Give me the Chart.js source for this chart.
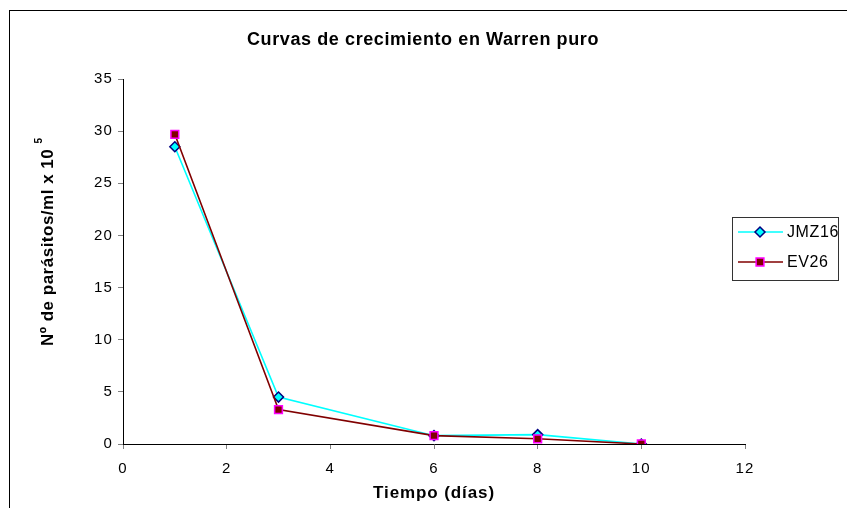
<!DOCTYPE html>
<html>
<head>
<meta charset="utf-8">
<script src="https://cdn.jsdelivr.net/npm/chart.js@4.4.1/dist/chart.umd.min.js"></script>
<style>
  html, body { margin: 0; padding: 0; background: #ffffff; }
  #wrap { width: 847px; height: 508px; position: relative; }
</style>
</head>
<body>
<div id="wrap"><canvas id="c" width="847" height="508"></canvas></div>
<script>
// Growth curves of two strains in pure Warren medium
const chartTitle = 'Curvas de crecimiento en Warren puro';
const xAxisTitle = 'Tiempo (días)';
const yAxisTitle = 'Nº de parásitos/ml x 10';
const yAxisExponent = '5';

const days = [1, 3, 6, 8, 10];
const seriesNames = ['JMZ16', 'EV26'];
const jmz16 = [28.5, 4.5, 0.8, 0.9, 0];
const ev26 = [29.7, 3.3, 0.8, 0.5, 0];

const xTickValues = [0, 2, 4, 6, 8, 10, 12];
const yTickValues = [0, 5, 10, 15, 20, 25, 30, 35];

const FONT = 'Arial, "Liberation Sans", sans-serif';

const toPoints = (vals) => days.map((d, i) => ({ x: d, y: vals[i] }));

const seriesStyles = [
  { line: '#00ffff', fill: '#00ffff', edge: '#000080', shape: 'rectRot', radius: 5 },
  { line: '#800000', fill: '#800000', edge: '#ff00ff', shape: 'rect', radius: 5.5 }
];

// the second series is painted over the first one
const drawOrder = [1, 0];

const datasets = [jmz16, ev26].map((vals, i) => ({
  label: seriesNames[i],
  data: toPoints(vals),
  order: drawOrder[i],
  borderColor: seriesStyles[i].line,
  borderWidth: 1.6,
  backgroundColor: seriesStyles[i].fill,
  pointBackgroundColor: seriesStyles[i].fill,
  pointBorderColor: seriesStyles[i].edge,
  pointBorderWidth: 1.5,
  pointStyle: seriesStyles[i].shape,
  pointRadius: seriesStyles[i].radius,
  tension: 0,
  fill: false
}));

// Slightly spaced lettering for the tick labels
const spacing = {
  id: 'spacing',
  beforeDraw(chart) { chart.ctx.letterSpacing = '1.2px'; }
};

// Outer frame, titles and the boxed legend
const decorations = {
  id: 'decorations',
  afterDraw(chart) {
    const ctx = chart.ctx;
    ctx.save();

    // frame around the whole chart
    ctx.strokeStyle = '#000000';
    ctx.lineWidth = 1;
    ctx.strokeRect(9.5, 10.5, 900, 600);

    // main title
    ctx.fillStyle = '#000000';
    ctx.letterSpacing = '0.6px';
    ctx.font = 'bold 18px ' + FONT;
    ctx.textAlign = 'center';
    ctx.textBaseline = 'middle';
    ctx.fillText(chartTitle, 423, 40);

    // x axis title
    ctx.letterSpacing = '0.9px';
    ctx.font = 'bold 17px ' + FONT;
    ctx.fillText(xAxisTitle, 434, 493);

    // y axis title with superscript exponent
    ctx.save();
    ctx.translate(48, 346);
    ctx.rotate(-Math.PI / 2);
    ctx.letterSpacing = '0.5px';
    ctx.textAlign = 'left';
    ctx.font = 'bold 17px ' + FONT;
    const mainW = ctx.measureText(yAxisTitle + ' ').width;
    ctx.fillText(yAxisTitle + ' ', 0, 0);
    ctx.font = 'bold 10px ' + FONT;
    ctx.fillText(yAxisExponent, mainW, -9);
    ctx.restore();

    // legend
    const lx = 732, ly = 217, lw = 106, lh = 63;
    ctx.fillStyle = '#ffffff';
    ctx.fillRect(lx, ly, lw, lh);
    ctx.strokeStyle = '#333333';
    ctx.lineWidth = 1;
    ctx.strokeRect(lx + 0.5, ly + 0.5, lw, lh);
    const rows = [232, 262];
    seriesNames.forEach((name, i) => {
      const st = seriesStyles[i];
      const y = rows[i];
      ctx.strokeStyle = st.line;
      ctx.lineWidth = 1.6;
      ctx.beginPath();
      ctx.moveTo(738, y);
      ctx.lineTo(783, y);
      ctx.stroke();
      ctx.fillStyle = st.fill;
      ctx.strokeStyle = st.edge;
      ctx.lineWidth = 1.5;
      ctx.beginPath();
      if (st.shape === 'rect') {
        const s = st.radius * Math.SQRT1_2;
        ctx.rect(760 - s, y - s, 2 * s, 2 * s);
      } else {
        const r = st.radius;
        ctx.moveTo(760, y - r);
        ctx.lineTo(760 + r, y);
        ctx.lineTo(760, y + r);
        ctx.lineTo(760 - r, y);
        ctx.closePath();
      }
      ctx.fill();
      ctx.stroke();
      ctx.fillStyle = '#000000';
      ctx.letterSpacing = '0.6px';
      ctx.font = '16px ' + FONT;
      ctx.textAlign = 'left';
      ctx.textBaseline = 'middle';
      ctx.fillText(name, 787, y + 1);
    });

    ctx.restore();
  }
};

const axisGrid = { display: true, drawOnChartArea: false, drawTicks: true, tickLength: 5, color: '#808080' };
const axisBorder = { display: true, color: '#000000', width: 1 };
const tickFont = { family: FONT, size: 15 };

new Chart(document.getElementById('c'), {
  type: 'line',
  data: { datasets },
  options: {
    responsive: false,
    animation: false,
    devicePixelRatio: 1,
    layout: { padding: { left: 0, top: 79, right: 102, bottom: 0 } },
    plugins: {
      legend: { display: false },
      title: { display: false },
      tooltip: { enabled: false }
    },
    scales: {
      x: {
        type: 'linear',
        min: 0,
        max: 12,
        grid: axisGrid,
        border: axisBorder,
        ticks: { color: '#000000', font: tickFont, stepSize: 2, padding: 11 },
        afterBuildTicks(scale) { scale.ticks = xTickValues.map(v => ({ value: v })); },
        afterFit(scale) { scale.height = 64; }
      },
      y: {
        type: 'linear',
        min: 0,
        max: 35,
        grid: axisGrid,
        border: axisBorder,
        ticks: { color: '#000000', font: tickFont, stepSize: 5, padding: 5 },
        afterBuildTicks(scale) { scale.ticks = yTickValues.map(v => ({ value: v })); },
        afterFit(scale) { scale.width = 123; }
      }
    }
  },
  plugins: [spacing, decorations]
});
</script>
</body>
</html>
